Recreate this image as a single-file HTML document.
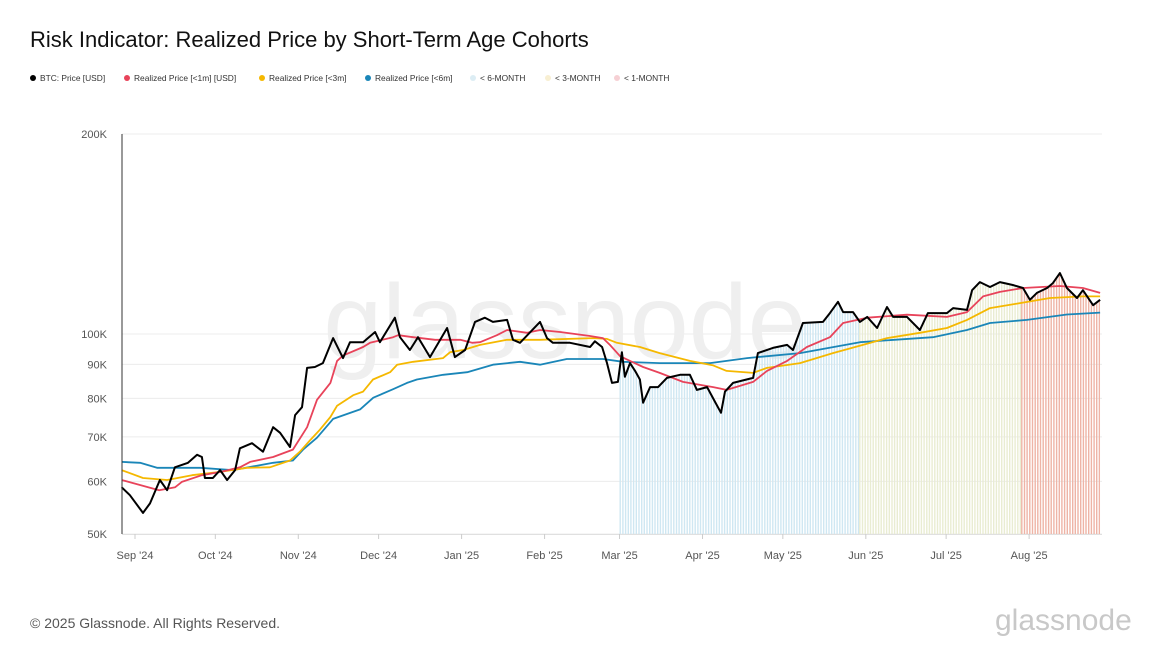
<!DOCTYPE html>
<html><head><meta charset="utf-8"><style>
body{margin:0;background:#fff;font-family:"Liberation Sans",sans-serif;}
#wrap{position:relative;width:1170px;height:658px;overflow:hidden;}
.title{position:absolute;left:30px;top:27px;font-size:22px;color:#111;}
.li{position:absolute;top:73px;display:flex;align-items:center;font-size:8.4px;color:#333;white-space:nowrap;}
.dot{width:6px;height:6px;border-radius:50%;margin-right:4px;}
.footer{position:absolute;left:30px;top:615px;font-size:14px;color:#555;}
.logo{position:absolute;left:995px;top:604px;font-size:30px;color:#c8c8c8;}
</style></head><body>
<div id="wrap">
<div class="title">Risk Indicator: Realized Price by Short-Term Age Cohorts</div>
<div>
<div class="li" style="left:30px"><span class="dot" style="background:#000"></span>BTC: Price [USD]</div>
<div class="li" style="left:124px"><span class="dot" style="background:#e8435a"></span>Realized Price [&lt;1m] [USD]</div>
<div class="li" style="left:259px"><span class="dot" style="background:#f5b800"></span>Realized Price [&lt;3m]</div>
<div class="li" style="left:365px"><span class="dot" style="background:#1a86b8"></span>Realized Price [&lt;6m]</div>
<div class="li" style="left:470px"><span class="dot" style="background:#dcedf4"></span>&lt; 6-MONTH</div>
<div class="li" style="left:545px"><span class="dot" style="background:#f8efd2"></span>&lt; 3-MONTH</div>
<div class="li" style="left:614px"><span class="dot" style="background:#f6d0d4"></span>&lt; 1-MONTH</div>
</div>
<svg id="chart" width="1170" height="658" style="position:absolute;left:0;top:0"></svg>
<div class="footer">© 2025 Glassnode. All Rights Reserved.</div>
<div class="logo">glassnode</div>
</div>
<script>
const btcDays=[-5,-1.9,3,5.6,9.3,12,14.9,19.8,23.2,25,26.1,29.1,31.8,34.4,37.4,39.2,43.7,47.8,51.6,54.2,57.9,59.8,62.4,64.3,67.2,70.2,74,77.7,80.3,85.2,89.7,91.5,97.1,99,102.7,105.7,110.2,116.6,119.5,123.3,127,130.7,133.7,139,141.2,143.8,151.3,153.9,156.1,162.5,170,171.8,174.5,176.3,178.2,180.4,181.9,183,184.9,186.8,188.6,189.8,192.4,195.4,198.7,203.6,207.3,209.9,213.7,216.7,218.9,220.4,223.4,230.9,232.7,238.3,243.6,245.8,249.5,257,259.6,262.6,264.5,268.2,270.8,273.5,277.2,280.9,283.2,288.4,293.2,296.2,303.3,305.6,310.8,312.7,315.6,319.4,323.1,327.9,331.7,334.3,336.9,340.7,342.9,345.5,348.1,351.9,354.1,357.9,360.5];
const btcPrice=[58.8,57.2,53.8,55.6,60.3,58.2,63.0,64.0,65.8,65.3,60.7,60.7,62.4,60.3,62.4,67.3,68.5,66.5,72.4,71.0,67.6,75.5,77.6,88.9,89.2,90.4,98.6,92.0,97.2,97.2,100.7,97.2,105.8,98.9,94.6,98.9,92.3,102.1,92.3,94.6,104.3,105.8,104.3,105.0,98.0,97.0,104.3,98.6,97.0,97.0,95.6,97.5,95.6,90.4,84.4,84.7,93.9,86.2,90.4,88.0,85.4,78.8,83.2,83.2,85.9,86.8,86.8,82.4,83.2,79.0,76.1,81.9,84.4,85.9,93.6,95.3,96.3,94.6,103.9,104.3,107.5,111.8,107.9,107.9,104.3,106.1,102.1,109.8,106.1,106.1,101.4,107.5,107.5,109.4,108.7,116.4,119.7,117.7,119.7,118.5,117.3,112.6,115.3,117.3,119.3,123.5,117.3,113.3,116.4,110.5,112.6];
const r1Days=[-5,9,15,17.5,25,32,39.2,43,51.6,59,64.3,68,73,75.5,77.7,85.2,87.8,96.4,98.3,103.9,112.1,121.5,125.9,128.9,135.2,139,146.5,151.3,158.8,170,174.8,177.4,181.2,184.9,189.8,196,204.7,216,221,230.9,236.1,243.6,251,259.6,264.5,273.5,288.4,303.3,310.8,316.8,323.1,331.7,345.5,354.1,360.5];
const r1Price=[60.3,58.2,58.8,59.9,61.3,62.0,63.0,64.2,65.3,67.0,72.4,79.6,84.4,91.1,92.8,95.6,97.0,98.9,99.6,98.9,98.0,98.0,97.0,97.2,99.6,101.4,100.4,101.4,100.7,99.3,98.6,96.3,92.6,91.1,89.2,87.4,84.7,83.2,82.4,84.7,88.0,91.1,95.6,98.9,103.9,105.8,106.9,106.1,107.9,113.9,115.7,117.3,118.1,117.3,115.3];
const r3Days=[-5,3,12,21.3,31.8,41.8,50.4,57.9,61.6,65.4,69.1,73,75.5,81.5,85.2,88.9,95.3,97.9,103.9,115.1,117.7,122.6,128.9,139,151.3,171,176.3,180,188.6,196,207.3,216,221,230.9,236.1,248.4,260.7,271.9,280.9,293.2,303.3,310.8,319.4,329.5,341.8,354.1,360.5];
const r3Price=[62.4,60.7,60.3,61.3,62.0,62.9,63.0,64.5,66.5,69.2,71.8,75.0,78.0,80.9,81.9,85.4,87.6,89.9,90.8,92.0,93.9,94.6,96.3,98.0,98.0,98.6,98.3,97.0,95.6,93.6,91.1,89.7,88.0,87.4,88.9,90.4,93.6,96.3,98.6,100.4,102.1,105.0,109.4,111.1,113.3,113.9,113.9];
const r6Days=[-5,1.9,8.2,24.3,36.6,51.6,59,62.8,68,74,84.1,89,96.4,101.6,105.3,115.1,124.1,133.7,143.8,151.3,161.3,174.8,182.3,196,214.8,228.6,248.4,270.8,298.1,310.8,319.4,333.2,348.1,360.5];
const r6Price=[64.2,64.0,62.9,62.9,62.4,64.0,64.5,67.0,69.8,74.5,77.0,80.2,82.6,84.4,85.4,86.8,87.6,89.9,90.8,89.9,91.7,91.7,90.8,90.4,90.4,92.0,93.6,97.2,98.9,101.4,103.9,105.0,107.0,107.7];
const yTicks=[50,60,70,80,90,100,200];
const yTickLabels=["50K","60K","70K","80K","90K","100K","200K"];
const xTickDays=[0,30,61,91,122,153,181,212,242,273,303,334];
const xTickLabels=["Sep '24","Oct '24","Nov '24","Dec '24","Jan '25","Feb '25","Mar '25","Apr '25","May '25","Jun '25","Jul '25","Aug '25"];
const bandStarts=[181,270.5,331];
const bandEnds=[270.5,331,361];
const bandNames=["band-6-month","band-3-month","band-1-month"];
const bandColors=["#cfe7f2","#e9ecd2","#eeb4a6"];

const X0=122,X1=1102,Y0=534,Y1=134;
const x=d=>135+d*2.677;
const y=p=>534-200*Math.log2(p/50);
const NS="http://www.w3.org/2000/svg";
const svg=document.getElementById('chart');
function mk(t,a){const e=document.createElementNS(NS,t);for(const k in a)e.setAttribute(k,a[k]);return e;}
yTicks.forEach((v,i)=>{
 const g=mk('line',{x1:X0,x2:X1,y1:y(v),y2:y(v),stroke:'#ececec','stroke-width':1});
 
 
 svg.appendChild(g);
 const t=mk('text',{x:107,y:y(v)+4,'text-anchor':'end','font-size':11,fill:'#555','font-family':'Liberation Sans'});
 t.textContent=yTickLabels[i];
 
 
 svg.appendChild(t);
});
const wm=mk('text',{x:565,y:358,'text-anchor':'middle','font-size':106,fill:'#efefef','font-family':'Liberation Sans'});
wm.textContent='glassnode';


svg.appendChild(wm);
const defs=mk('defs',{});svg.appendChild(defs);
const cp=mk('clipPath',{id:'under'});defs.appendChild(cp);
let ad='M'+x(btcDays[0])+','+Y0;
btcDays.forEach((d,i)=>{ad+=' L'+x(d).toFixed(1)+','+y(btcPrice[i]).toFixed(1);});
ad+=' L'+x(btcDays[btcDays.length-1])+','+Y0+'Z';
cp.appendChild(mk('path',{d:ad}));
const bg=mk('g',{'clip-path':'url(#under)'});


svg.appendChild(bg);
bandStarts.forEach((s,i)=>{
 const g=mk('g',{fill:bandColors[i]});
 
 
 for(let d=s;d<bandEnds[i];d+=1){
  g.appendChild(mk('rect',{x:x(d).toFixed(1),y:Y1,width:1.4,height:Y0-Y1}));
 }
 bg.appendChild(g);
});
function line(days,vals,color,w,name){
 let d='';days.forEach((dd,i)=>{d+=(i?' L':'M')+x(dd).toFixed(1)+','+y(vals[i]).toFixed(1);});
 const p=mk('path',{d:d,fill:'none',stroke:color,'stroke-width':w,'stroke-linejoin':'round'});
 
 
 svg.appendChild(p);
}
line(r6Days,r6Price,'#1a86b8',1.8,'realized-price-6m-line');
line(r3Days,r3Price,'#f5b800',1.8,'realized-price-3m-line');
line(r1Days,r1Price,'#e8435a',1.8,'realized-price-1m-line');
line(btcDays,btcPrice,'#000',2,'btc-price-line');
const ax=mk('line',{x1:X0,x2:X0,y1:Y1,y2:Y0,stroke:'#333','stroke-width':1});


svg.appendChild(ax);
const bx=mk('line',{x1:X0,x2:X1,y1:Y0+0.5,y2:Y0+0.5,stroke:'#e0e0e0','stroke-width':1});


svg.appendChild(bx);
xTickDays.forEach((d,i)=>{
 const tk=mk('line',{x1:x(d),x2:x(d),y1:Y0,y2:Y0+5,stroke:'#ccc'});
 
 
 svg.appendChild(tk);
 const t=mk('text',{x:x(d),y:559,'text-anchor':'middle','font-size':11,fill:'#555','font-family':'Liberation Sans'});
 t.textContent=xTickLabels[i];
 
 
 svg.appendChild(t);
});
</script>
</body></html>
